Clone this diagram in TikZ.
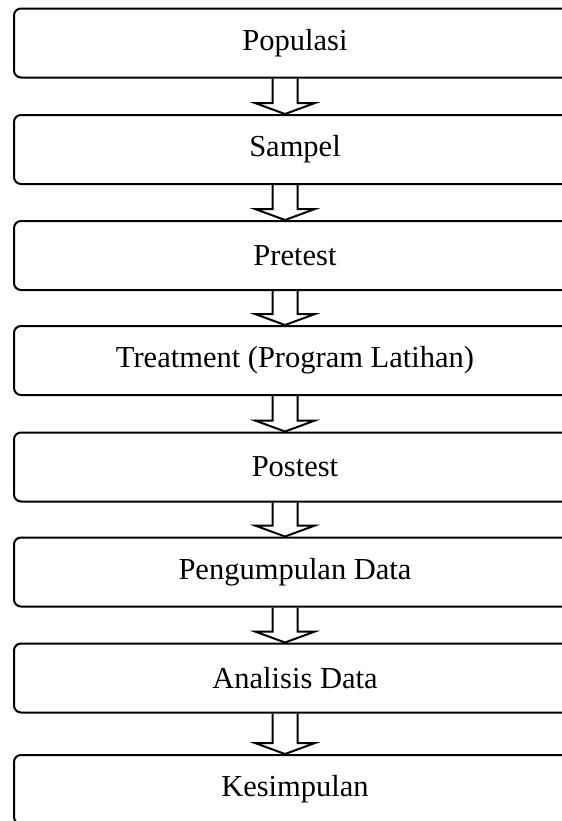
\documentclass[tikz,border=0pt]{standalone}
\usepackage{fontspec}
\setmainfont{Liberation Serif}
\usetikzlibrary{calc}

\begin{document}
\begin{tikzpicture}[x=0.5pt, y=-0.5pt, line join=miter,
    stepbox/.style={draw, rounded corners=3.5pt, line width=1pt, minimum width=281pt, minimum height=34.5pt, inner sep=0pt, font=\fontsize{15.25}{18}\selectfont},
    hollow/.style={draw, line width=1pt}]
        \useasboundingbox (0, 0) rectangle (562, 821);
        % draw the boxes
        \node[stepbox] (populasi) at (295, 43) {Populasi};
        \node[stepbox] (sampel) at (295, 149.5) {Sampel};
        \node[stepbox] (pretest) at (295, 255.5) {Pretest};
        \node[stepbox] (treatment) at (295, 360.5) {Treatment (Program Latihan)};
        \node[stepbox] (postest) at (295, 467) {Postest};
        \node[stepbox] (pengumpulan) at (295, 572) {Pengumpulan Data};
        \node[stepbox] (analisis) at (295, 678) {Analisis Data};
        \node[stepbox] (kesimpulan) at (295, 789.5) {Kesimpulan};
        % draw the hollow arrows between the boxes
        \foreach \a/\b in {populasi/sampel, sampel/pretest, pretest/treatment, treatment/postest, postest/pengumpulan, pengumpulan/analisis, analisis/kesimpulan}
            \path[hollow] ($(\a.south)+(-22.5, 0)$) -- ($(\b.north)+(-22.5, -11)$) -- ($(\b.north)+(-40, -11)$) -- ($(\b.north)+(-10, 0)$) -- ($(\b.north)+(20, -11)$) -- ($(\b.north)+(2.5, -11)$) -- ($(\a.south)+(2.5, 0)$);
    \end{tikzpicture}
\end{document}
